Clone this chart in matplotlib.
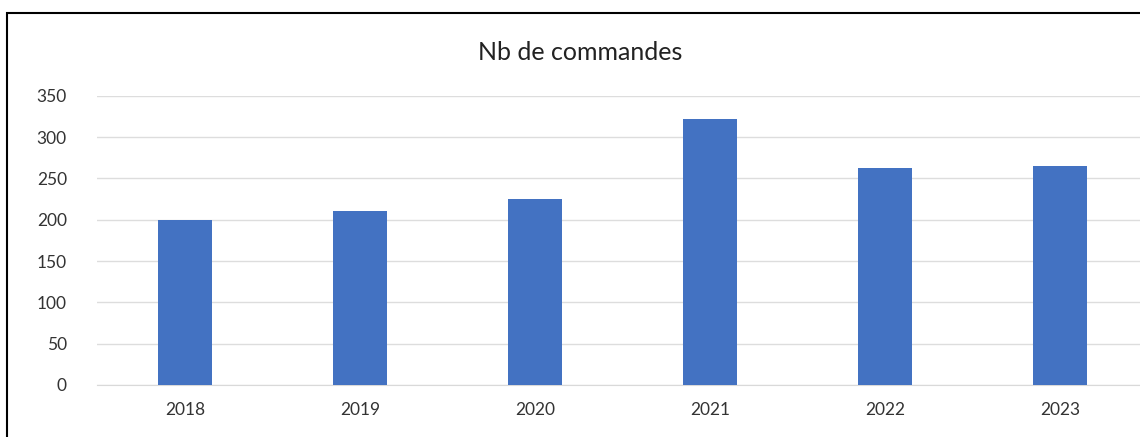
import matplotlib.pyplot as plt
from matplotlib.patches import Rectangle

# data
years = ['2018', '2019', '2020', '2021', '2022', '2023']
commandes = [200, 211, 225, 322, 263, 265]
y_ticks = [0, 50, 100, 150, 200, 250, 300, 350]

plt.rcParams['font.family'] = ['Lato', 'DejaVu Sans']

fig = plt.figure(figsize=(11.4, 4.37), dpi=100)
# plot area is cut off on the right in the original, so the axes run past the figure edge
ax = fig.add_axes([0.0855, 0.119, 0.921, 0.662])

x = range(len(years))
ax.bar(x, commandes, width=0.31, color='#4372C2', zorder=3)

ax.set_xlim(-0.5, len(years) - 0.5)
ax.set_ylim(0, 350)
ax.set_yticks(y_ticks)
ax.set_xticks(list(x))
ax.set_xticklabels(years)
ax.tick_params(axis='both', length=0, labelsize=12.5, colors='#333333')
ax.tick_params(axis='y', pad=22)
ax.tick_params(axis='x', pad=12)

ax.grid(axis='y', color='#DDDDDD', linewidth=1, zorder=0)
for side in ['top', 'right', 'left']:
    ax.spines[side].set_visible(False)
ax.spines['bottom'].set_color('#D9D9D9')

fig.text(0.509, 0.879, 'Nb de commandes', ha='center', va='center', fontsize=18, color='#222222')

# black frame around the chart (top and left edges visible)
fig.patches.append(Rectangle((0.006, -0.1), 1.2, 1.07, transform=fig.transFigure,
                             fill=False, edgecolor='black', linewidth=1.5))

fig.savefig('out.png', dpi=100)
